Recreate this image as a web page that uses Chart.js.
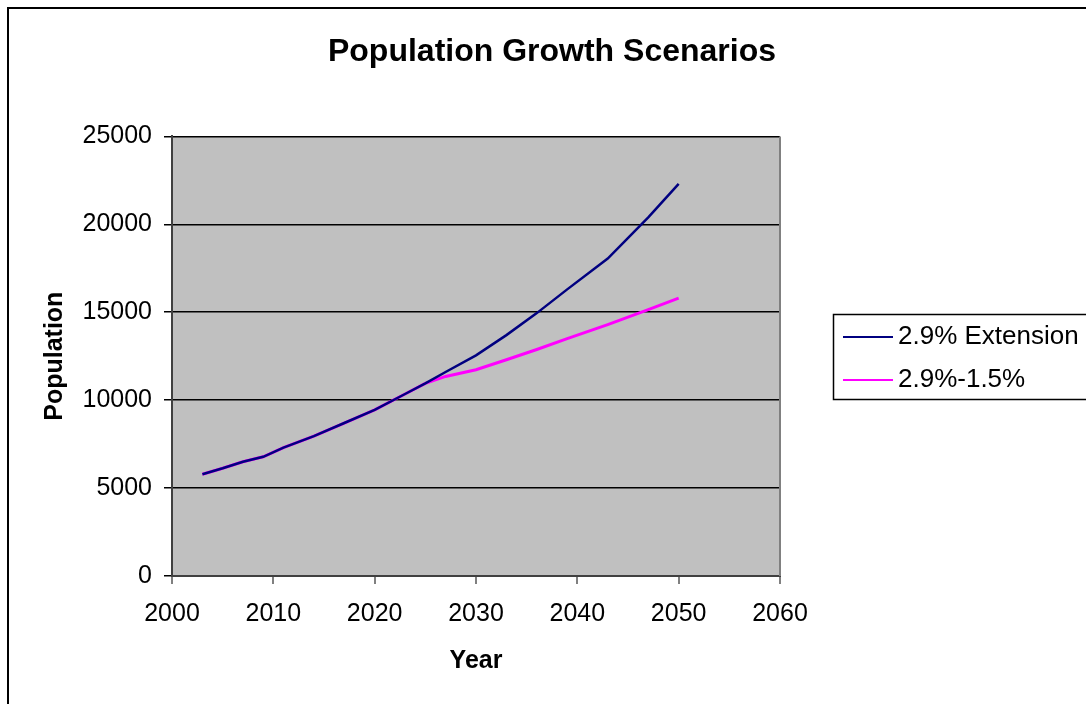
<!DOCTYPE html>
<html>
<head>
<meta charset="utf-8">
<script src="https://cdn.jsdelivr.net/npm/chart.js@4.4.1/dist/chart.umd.min.js"></script>
<style>
  body { margin: 0; background: #fff; }
  canvas { display: block; }
</style>
</head>
<body>
<canvas id="myChart" width="1086" height="704"></canvas>
<script>
// values
const years = [2003, 2005, 2007, 2009, 2011, 2014, 2017, 2020, 2023, 2025, 2027, 2030, 2033, 2036, 2039, 2043, 2047, 2050];
const extension = [5790, 6130, 6500, 6780, 7300, 7950, 8700, 9450, 10350, 10950, 11600, 12550, 13700, 14950, 16300, 18050, 20400, 22300];
const reduced = [5790, 6130, 6500, 6780, 7300, 7950, 8700, 9450, 10350, 10950, 11350, 11730, 12300, 12880, 13500, 14300, 15150, 15800];
const seriesNames = ['2.9% Extension', '2.9%-1.5%'];
const xTicks = [2000, 2010, 2020, 2030, 2040, 2050, 2060];
const yTicks = [0, 5000, 10000, 15000, 20000, 25000];

const toPoints = vals => years.map((y, i) => ({ x: y, y: vals[i] }));
const FONT = '"Liberation Sans", Arial, sans-serif';

// grey plot background + outer frame
const frame = {
  id: 'frame',
  beforeDraw(chart) {
    const { ctx, chartArea: a } = chart;
    ctx.save();
    ctx.fillStyle = '#c0c0c0';
    ctx.fillRect(a.left, a.top, a.right - a.left, a.bottom - a.top);
    ctx.strokeStyle = '#000';
    ctx.lineWidth = 2;
    ctx.beginPath();
    ctx.moveTo(8, 704);
    ctx.lineTo(8, 8);
    ctx.lineTo(1086, 8);
    ctx.stroke();
    ctx.restore();
  },
  afterDatasetsDraw(chart) {
    const { ctx, chartArea: a } = chart;
    ctx.save();
    ctx.strokeStyle = '#808080';
    ctx.lineWidth = 2;
    ctx.beginPath();
    ctx.moveTo(a.right, a.top);
    ctx.lineTo(a.right, a.bottom);
    ctx.stroke();
    ctx.restore();
  }
};

// legend box on the right, cut by the page edge like the original
const boxLegend = {
  id: 'boxLegend',
  afterDraw(chart) {
    const { ctx } = chart;
    ctx.save();
    ctx.fillStyle = '#fff';
    ctx.fillRect(833, 314, 260, 85);
    ctx.strokeStyle = '#000';
    ctx.lineWidth = 1.5;
    ctx.strokeRect(833.5, 314.5, 260, 85);
    const rows = [337, 380];
    chart.data.datasets.forEach((ds, i) => {
      ctx.strokeStyle = ds.borderColor;
      ctx.lineWidth = 2;
      ctx.beginPath();
      ctx.moveTo(843, rows[i]);
      ctx.lineTo(893, rows[i]);
      ctx.stroke();
      ctx.fillStyle = '#000';
      ctx.font = '26px ' + FONT;
      ctx.textBaseline = 'middle';
      ctx.fillText(ds.label, 898, rows[i]);
    });
    ctx.restore();
  }
};

const ctx = document.getElementById('myChart').getContext('2d');
const myChart = new Chart(ctx, {
  type: 'line',
  data: {
    datasets: [
      {
        label: seriesNames[0],
        data: toPoints(extension),
        borderColor: '#000080',
        borderWidth: 2.5,
        pointRadius: 0,
        tension: 0
      },
      {
        label: seriesNames[1],
        data: toPoints(reduced),
        borderColor: '#ff00ff',
        borderWidth: 3,
        pointRadius: 0,
        tension: 0
      }
    ]
  },
  options: {
    responsive: false,
    animation: false,
    devicePixelRatio: 1,
    layout: { padding: { top: 0, left: 18, right: 0, bottom: 0 } },
    plugins: {
      legend: { display: false },
      tooltip: { enabled: false },
      title: {
        display: true,
        text: 'Population Growth Scenarios',
        color: '#000',
        font: { family: FONT, size: 32, weight: 'bold' },
        padding: { top: 33, bottom: 65 }
      }
    },
    scales: {
      x: {
        type: 'linear',
        min: 2000,
        max: 2060,
        afterBuildTicks: s => { s.ticks = xTicks.map(v => ({ value: v })); },
        afterFit: s => { s.height = 128; },
        ticks: {
          color: '#000',
          padding: 15,
          maxRotation: 0,
          font: { family: FONT, size: 25 },
          callback: v => String(v)
        },
        grid: { drawOnChartArea: false, drawTicks: true, tickLength: 8, color: '#808080', lineWidth: 2 },
        border: { color: '#404040', width: 2 },
        title: {
          display: true,
          text: 'Year',
          color: '#000',
          font: { family: FONT, size: 25, weight: 'bold' },
          padding: { top: 0, bottom: 28 }
        }
      },
      y: {
        min: 0,
        max: 25000,
        afterBuildTicks: s => { s.ticks = yTicks.map(v => ({ value: v })); },
        afterFit: s => { s.width = 154; },
        ticks: {
          color: '#000',
          padding: 12,
          font: { family: FONT, size: 25 },
          callback: v => String(v)
        },
        grid: { color: '#000', lineWidth: 1.5, drawTicks: true, tickLength: 8 },
        border: { color: '#404040', width: 2 },
        title: {
          display: true,
          text: 'Population',
          color: '#000',
          font: { family: FONT, size: 25, weight: 'bold' },
          padding: { top: 22, bottom: 0 }
        }
      },
      // empty right-hand strip that holds the space where the legend sits
      side: {
        position: 'right',
        afterFit: s => { s.width = 306; },
        ticks: { display: false },
        grid: { display: false },
        border: { display: false }
      }
    }
  },
  plugins: [frame, boxLegend]
});
</script>
</body>
</html>
